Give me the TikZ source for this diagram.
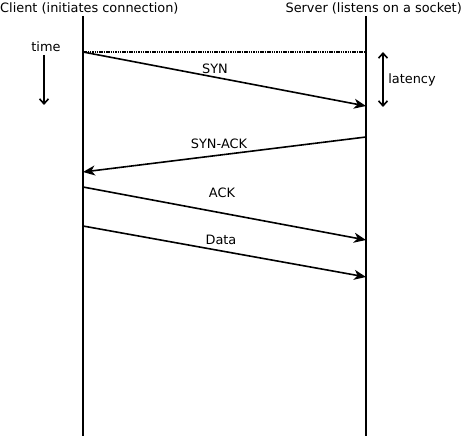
\documentclass[tikz,border=0pt]{standalone}
\usepackage{fontspec}
\setmainfont{DejaVu Sans}
\usetikzlibrary{arrows.meta}
\begin{document}
\begin{tikzpicture}[x=1pt,y=-1pt,
  lbl/.style={inner sep=0pt,font=\fontsize{12.9}{14}\selectfont},
  life/.style={line width=2.2pt},
  msg/.style={line width=1.6pt,-{Stealth[length=12pt,width=10pt,inset=3.5pt]}},
  barb/.style={line width=1.6pt,-{Straight Barb[length=5pt,width=9pt]}},
  dbarb/.style={line width=1.6pt,{Straight Barb[length=5pt,width=9pt]}-{Straight Barb[length=5pt,width=9pt]}}]
\useasboundingbox (0,0) rectangle (464,436);
% headers
\node[lbl,anchor=west] (client) at (0,8) {Client (initiates connection)};
\node[lbl,anchor=east] (server) at (462,8) {Server (listens on a socket)};
% lifelines
\coordinate (ct) at (83,16);
\coordinate (cb) at (83,437);
\coordinate (st) at (366,16);
\coordinate (sb) at (366,437);
\draw[life] (ct) -- (cb);
\draw[life] (st) -- (sb);
% time
\node[lbl] (time) at (46,47) {time};
\coordinate (t0) at (44,55);
\coordinate (t1) at (44,105);
\draw[barb] (t0) -- (t1);
% dotted reference
\coordinate (d0) at (83,52);
\coordinate (d1) at (366,52);
\draw[line width=1.2pt,dash pattern=on 1.5pt off 0.8pt] (d0) -- (d1);
% latency
\coordinate (l0) at (383,52);
\coordinate (l1) at (383,107);
\draw[dbarb] (l0) -- (l1);
\node[lbl] (lat) at (412,80) {latency};
% messages
\coordinate (a0) at (83,52);
\coordinate (a1) at (366,106);
\draw[msg] (a0) -- (a1);
\node[lbl] (syn) at (215,69) {SYN};
\coordinate (b0) at (366,137);
\coordinate (b1) at (83,172);
\draw[msg] (b0) -- (b1);
\node[lbl] (synack) at (219,144) {SYN-ACK};
\coordinate (c0) at (83,187);
\coordinate (c1) at (366,240);
\draw[msg] (c0) -- (c1);
\node[lbl] (ack) at (222,193) {ACK};
\coordinate (e0) at (83,226);
\coordinate (e1) at (366,277);
\draw[msg] (e0) -- (e1);
\node[lbl] (data) at (221,240) {Data};
\end{tikzpicture}
\end{document}
